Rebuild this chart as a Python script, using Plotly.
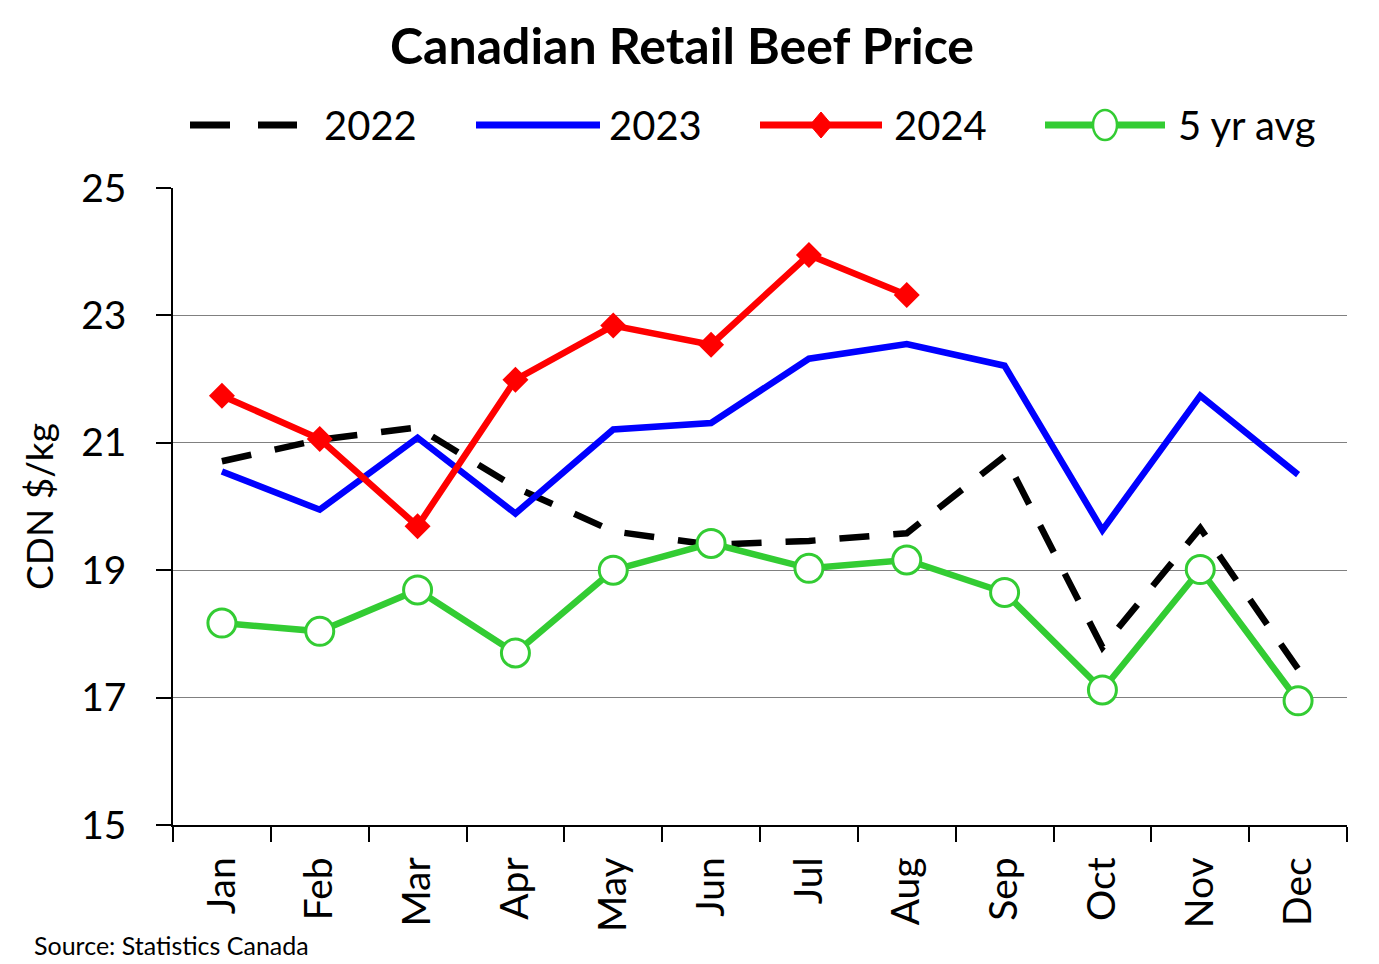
import plotly.graph_objects as go

# months on the x axis
months = ["Jan", "Feb", "Mar", "Apr", "May", "Jun", "Jul", "Aug", "Sep", "Oct", "Nov", "Dec"]

# retail beef price, CDN $/kg
y2022 = [20.71, 21.05, 21.24, 20.30, 19.61, 19.40, 19.46, 19.58, 20.79, 17.79, 19.66, 17.45]
y2023 = [20.55, 19.95, 21.08, 19.89, 21.21, 21.31, 22.32, 22.55, 22.21, 19.63, 21.74, 20.50]
y2024 = [21.74, 21.06, 19.69, 21.99, 22.84, 22.54, 23.95, 23.32]
avg5 = [18.17, 18.04, 18.69, 17.70, 19.00, 19.42, 19.03, 19.16, 18.65, 17.12, 19.01, 16.95]

y_ticks = [15, 17, 19, 21, 23, 25]

FONT = "Lato"
GREEN = "#33CC33"

# page is drawn with the browser's 8px body margin, so the figure is 8px smaller
OFF = 8
W, H = 1379 - OFF, 964 - OFF

fig = go.Figure()

fig.add_trace(go.Scatter(x=months, y=y2022, mode="lines", name="2022",
                         line=dict(color="black", width=6.5, dash="30px,24px")))
fig.add_trace(go.Scatter(x=months, y=y2023, mode="lines", name="2023",
                         line=dict(color="#0000FF", width=6.5)))
fig.add_trace(go.Scatter(x=months[:len(y2024)], y=y2024, mode="lines+markers", name="2024",
                         line=dict(color="#FF0000", width=6.5),
                         marker=dict(symbol="diamond", size=20, color="#FF0000")))
fig.add_trace(go.Scatter(x=months, y=avg5, mode="lines+markers", name="5 yr avg",
                         line=dict(color=GREEN, width=6.5),
                         marker=dict(symbol="circle", size=28, color="white",
                                     line=dict(color=GREEN, width=3))))

# plot area in page pixels
L, R, T, B = 173, 1347, 188, 825


def px(x):
    return (x - L) / (R - L)


def py(y):
    return (B - y) / (B - T)


# hand-drawn legend so the sample lines are as long as in the original
ly = py(125)
shapes = []
annots = []
legend_items = [
    ("2022", 190, 297, "black", "40px,28px", None, 322),
    ("2023", 476, 600, "#0000FF", "solid", None, 607),
    ("2024", 760, 882, "#FF0000", "solid", "diamond", 892),
    ("5 yr avg", 1045, 1165, GREEN, "solid", "circle", 1176),
]
for label, x0, x1, col, dash, sym, tx in legend_items:
    shapes.append(dict(type="line", xref="paper", yref="paper",
                       x0=px(x0), x1=px(x1), y0=ly, y1=ly,
                       line=dict(color=col, width=7, dash=dash)))
    xc = (x0 + x1) / 2
    if sym == "diamond":
        shapes.append(dict(type="path", xref="paper", yref="paper",
                           path=f"M {px(xc)} {py(112)} L {px(xc + 11)} {py(125)} "
                                f"L {px(xc)} {py(138)} L {px(xc - 11)} {py(125)} Z",
                           fillcolor=col, line=dict(color=col, width=1)))
    if sym == "circle":
        shapes.append(dict(type="circle", xref="paper", yref="paper",
                           x0=px(xc - 12), x1=px(xc + 12), y0=py(140), y1=py(110),
                           fillcolor="white", line=dict(color=col, width=2.5)))
    annots.append(dict(text=label, xref="paper", yref="paper", x=px(tx), y=ly,
                       xanchor="left", yanchor="middle", showarrow=False,
                       font=dict(size=40, color="black", family=FONT)))

annots.append(dict(text="Source: Statistics Canada", xref="paper", yref="paper",
                   x=px(32), y=py(945), xanchor="left", yanchor="middle",
                   showarrow=False, font=dict(size=25, color="black", family=FONT)))

fig.update_layout(
    width=W, height=H,
    margin=dict(l=L - OFF, r=1379 - R, t=T - OFF, b=964 - B),
    paper_bgcolor="white", plot_bgcolor="white",
    font=dict(family=FONT, color="black"),
    showlegend=False,
    title=dict(text="<b>Canadian Retail Beef Price</b>", x=(682 - OFF) / W, xanchor="center",
               y=1 - (46 - OFF) / H, yanchor="middle", font=dict(size=50, family=FONT)),
    shapes=shapes, annotations=annots,
    xaxis=dict(
        categoryorder="array", categoryarray=months,
        showline=True, linecolor="black", linewidth=1.5,
        ticks="outside", ticklen=15, tickcolor="black", tickwidth=1.5,
        tickson="boundaries", tickangle=-90, ticklabelstandoff=15,
        tickfont=dict(size=39, family=FONT), showgrid=False,
        range=[-0.5, 11.5],
    ),
    yaxis=dict(
        range=[15, 25], tickvals=y_ticks, ticktext=[str(v) for v in y_ticks],
        showline=True, linecolor="black", linewidth=1.5,
        ticks="outside", ticklen=15, tickcolor="black", tickwidth=1.5,
        ticklabelstandoff=22,
        showgrid=True, gridcolor="#808080", gridwidth=1.2, zeroline=False,
        tickfont=dict(size=39, family=FONT),
        title=dict(text="CDN $/kg", font=dict(size=37, family=FONT), standoff=16),
    ),
)

fig.write_html("out.html")
